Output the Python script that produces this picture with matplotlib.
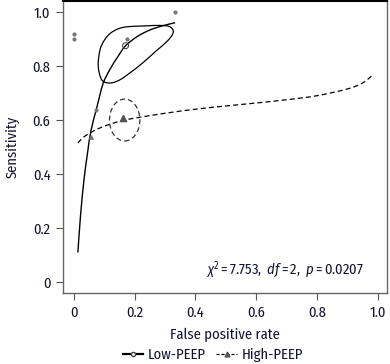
import numpy as np
import matplotlib
matplotlib.use("Agg")
import matplotlib.pyplot as plt
from matplotlib.patches import Ellipse, PathPatch
from matplotlib.path import Path
from matplotlib.lines import Line2D

plt.rcParams['font.family'] = ['Fira Sans Condensed', 'DejaVu Sans']
plt.rcParams['mathtext.fontset'] = 'custom'
plt.rcParams['mathtext.rm'] = 'Fira Sans Condensed'
plt.rcParams['mathtext.it'] = 'Fira Sans Condensed:italic'

# SROC curve, Low-PEEP
low_fpr = [0.013, 0.022, 0.033, 0.045, 0.056, 0.075, 0.096, 0.12, 0.142, 0.17, 0.21, 0.25, 0.29, 0.333]
low_sens = [0.11, 0.25, 0.378, 0.48, 0.56, 0.645, 0.735, 0.79, 0.83, 0.875, 0.91, 0.933, 0.948, 0.96]
# SROC curve, High-PEEP
high_fpr = [0.013, 0.03, 0.05, 0.08, 0.12, 0.16, 0.2, 0.3, 0.4, 0.5, 0.6, 0.7, 0.8, 0.9, 0.95, 0.987]
high_sens = [0.515, 0.535, 0.55, 0.568, 0.585, 0.598, 0.607, 0.625, 0.64, 0.652, 0.663, 0.675, 0.69, 0.715, 0.737, 0.77]

# study points
low_pts_x = [0.0, 0.0, 0.175, 0.333, 0.073]
low_pts_y = [0.92, 0.90, 0.90, 1.0, 0.637]
high_pts_x = [0.056]
high_pts_y = [0.537]

# summary points
low_sum = (0.17, 0.875)
high_sum = (0.163, 0.607)

# confidence region Low-PEEP
low_reg_x = [0.119, 0.092, 0.08, 0.086, 0.100, 0.119, 0.145, 0.175, 0.23, 0.284, 0.316, 0.327, 0.310, 0.270, 0.225, 0.185, 0.150]
low_reg_y = [0.737, 0.748, 0.80, 0.86, 0.895, 0.92, 0.937, 0.945, 0.948, 0.95, 0.945, 0.925, 0.895, 0.855, 0.81, 0.775, 0.748]
# confidence region High-PEEP (ellipse)
high_reg_center = (0.167, 0.600)
high_reg_w = 0.10
high_reg_h = 0.155

stat_text = r'$\chi^2 = 7.753,\ \mathit{df} = 2,\ \mathit{p} = 0.0207$'

txt_col = '#141432'


def smooth_path(x, y, closed=False):
    # Catmull-Rom through the points, as cubic bezier segments
    pts = np.column_stack([x, y])
    if closed:
        pts = np.vstack([pts, pts[:1]])
        ext = np.vstack([pts[-2:-1], pts, pts[1:2]])
    else:
        ext = np.vstack([pts[:1], pts, pts[-1:]])
    verts = [pts[0]]
    codes = [Path.MOVETO]
    for i in range(1, len(ext) - 2):
        p0, p1, p2, p3 = ext[i - 1], ext[i], ext[i + 1], ext[i + 2]
        verts += [p1 + (p2 - p0) / 6, p2 - (p3 - p1) / 6, p2]
        codes += [Path.CURVE4] * 3
    return Path(verts, codes)


fig = plt.figure(figsize=(3.9, 3.64), dpi=100)
ax = fig.add_axes([0.1615, 0.195, 0.8305, 0.802])

ax.add_patch(PathPatch(smooth_path(low_fpr, low_sens), fill=False, ec='black', lw=1.0))
ax.add_patch(PathPatch(smooth_path(high_fpr, high_sens), fill=False, ec='black', lw=0.9,
                       ls=(0, (4, 2.5))))
ax.add_patch(PathPatch(smooth_path(low_reg_x, low_reg_y, closed=True), fill=False,
                       ec='black', lw=0.9))
ax.add_patch(Ellipse(high_reg_center, high_reg_w, high_reg_h, fill=False,
                     ec='#333333', lw=0.9, ls=(0, (4, 2.5))))

ax.scatter(low_pts_x, low_pts_y, s=4, color='#777777', zorder=3)
ax.scatter(high_pts_x, high_pts_y, s=6, marker='^', color='#777777', zorder=3)
ax.scatter([low_sum[0]], [low_sum[1]], s=18, marker='o', facecolor='none',
           edgecolor='#444444', lw=0.8, zorder=4)
ax.scatter([high_sum[0]], [high_sum[1]], s=20, marker='^', color='#555555', zorder=4)

ax.text(0.955, 0.045, stat_text, ha='right', va='center', fontsize=10.5, color=txt_col)

ax.set_xlim(-0.036, 1.03)
ax.set_ylim(-0.04, 1.04)
ax.set_xticks([0, 0.2, 0.4, 0.6, 0.8, 1.0])
ax.set_xticklabels(['0', '0.2', '0.4', '0.6', '0.8', '1.0'])
ax.set_yticks([0, 0.2, 0.4, 0.6, 0.8, 1.0])
ax.set_yticklabels(['0', '0.2', '0.4', '0.6', '0.8', '1.0'])
ax.tick_params(direction='out', length=5, width=0.8, color='#555555',
               labelsize=10.5, labelcolor=txt_col, pad=4)
for side in ['left', 'bottom', 'right']:
    ax.spines[side].set_color('#666666')
    ax.spines[side].set_linewidth(1.0)
ax.spines['top'].set_color('black')
ax.spines['top'].set_linewidth(1.5)

ax.set_xlabel('False positive rate', fontsize=10.5, color=txt_col, labelpad=6)
ax.set_ylabel('Sensitivity', fontsize=10.5, color=txt_col, labelpad=9)

handles = [
    Line2D([], [], color='black', lw=1.6, marker='o', ms=3, mfc='white', mec='#444444'),
    Line2D([], [], color='black', lw=0.9, ls=(0, (2.5, 1.5)), marker='^', ms=3.5, mfc='#555555', mec='#555555'),
]
fig.legend(handles, ['Low-PEEP', 'High-PEEP'], loc='center', bbox_to_anchor=(0.546, 0.025),
           ncol=2, frameon=False, fontsize=10.5, handlelength=1.4, handletextpad=0.35,
           columnspacing=0.7, labelcolor=txt_col)

fig.savefig('out.png', dpi=100)
